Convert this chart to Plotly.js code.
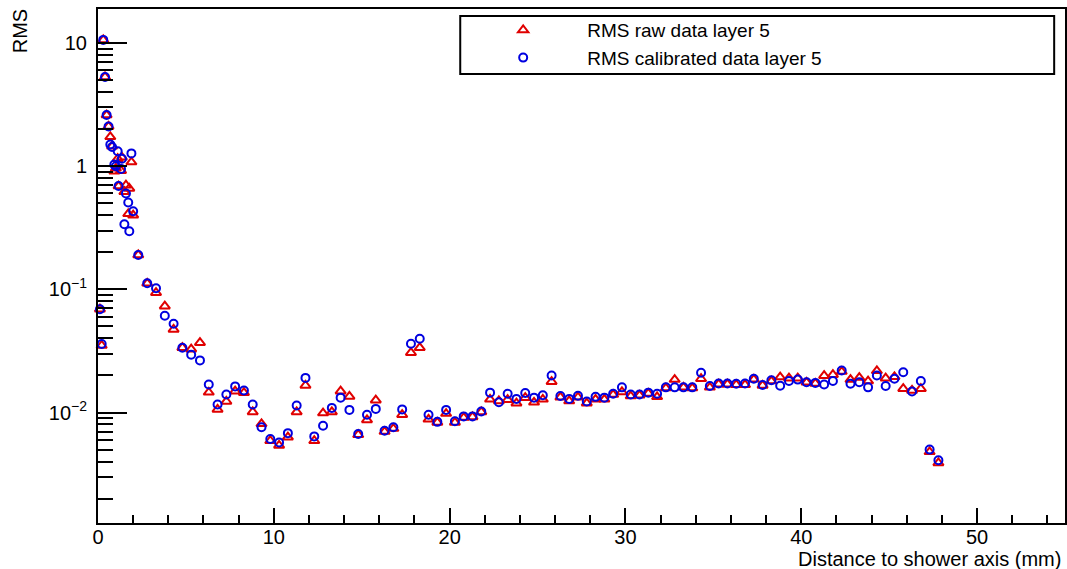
<!DOCTYPE html>
<html>
<head>
<meta charset="utf-8">
<script src="https://cdn.plot.ly/plotly-3.0.1.min.js"></script>
<style>
html,body{margin:0;padding:0;background:#fff;}
#chart{width:1067px;height:569px;}
</style>
</head>
<body>
<div id="chart"></div>
<script>
// Distance to shower axis (mm)
const distance = [
  0.11, 0.21, 0.30, 0.40, 0.49, 0.60, 0.70, 0.80, 0.93, 1.02, 1.12, 1.17, 1.31, 1.36, 1.50, 1.59, 1.72, 1.78, 1.90, 2.00, 2.29,
  2.8, 3.3, 3.8, 4.3, 4.8, 5.3, 5.8, 6.3, 6.8, 7.3, 7.8, 8.3, 8.8, 9.3, 9.8,
  10.3, 10.8, 11.3, 11.8, 12.3, 12.8, 13.3, 13.8, 14.3, 14.8, 15.3, 15.8, 16.3, 16.8, 17.3, 17.8, 18.3, 18.8, 19.3, 19.8,
  20.3, 20.8, 21.3, 21.8, 22.3, 22.8, 23.3, 23.8, 24.3, 24.8, 25.3, 25.8, 26.3, 26.8, 27.3, 27.8, 28.3, 28.8, 29.3, 29.8,
  30.3, 30.8, 31.3, 31.8, 32.3, 32.8, 33.3, 33.8, 34.3, 34.8, 35.3, 35.8, 36.3, 36.8, 37.3, 37.8, 38.3, 38.8, 39.3, 39.8,
  40.3, 40.8, 41.3, 41.8, 42.3, 42.8, 43.3, 43.8, 44.3, 44.8, 45.3, 45.8, 46.3, 46.8, 47.3, 47.8
];
// RMS raw data layer 5
const rmsRaw = [
  0.069, 0.035, 10.6, 5.3, 2.6, 2.1, 1.73, 1.45, 0.91, 0.96, 1.15, 0.69, 0.92, 1.18, 0.62, 0.70, 0.41, 0.66, 1.08, 0.40, 0.19,
  0.112, 0.094, 0.073, 0.0473, 0.0336, 0.0327, 0.0369, 0.0146, 0.0106, 0.0123, 0.0149, 0.0145, 0.0101, 0.0081, 0.0059,
  0.0054, 0.0063, 0.0101, 0.0166, 0.0059, 0.0099, 0.0101, 0.0149, 0.0135, 0.0066, 0.0087, 0.0126, 0.0070, 0.0074, 0.0096, 0.0306, 0.0336, 0.0088, 0.0083, 0.0098,
  0.0083, 0.0091, 0.0092, 0.0101, 0.0128, 0.0124, 0.0127, 0.0119, 0.0132, 0.0121, 0.0128, 0.0178, 0.0133, 0.0124, 0.0133, 0.0119, 0.0128, 0.0128, 0.0140, 0.0147,
  0.0136, 0.0138, 0.0143, 0.0134, 0.0158, 0.0185, 0.0160, 0.0158, 0.0188, 0.0160, 0.0170, 0.0170, 0.0168, 0.0168, 0.0186, 0.0166, 0.0180, 0.0194, 0.0190, 0.0190,
  0.0176, 0.0172, 0.0199, 0.0203, 0.0215, 0.0185, 0.0192, 0.0180, 0.0218, 0.0190, 0.0195, 0.0156, 0.0151, 0.0156, 0.0048, 0.0039
];
// RMS calibrated data layer 5
const rmsCalibrated = [
  0.069, 0.036, 10.6, 5.3, 2.6, 2.1, 1.50, 1.43, 1.03, 1.00, 1.32, 0.69, 0.95, 1.15, 0.338, 0.60, 0.507, 0.296, 1.27, 0.43, 0.19,
  0.112, 0.102, 0.061, 0.0526, 0.0336, 0.0295, 0.0265, 0.0169, 0.0116, 0.0140, 0.0163, 0.0151, 0.0116, 0.0076, 0.0061,
  0.0057, 0.0068, 0.0114, 0.0191, 0.0064, 0.0078, 0.0109, 0.0132, 0.0105, 0.0067, 0.0096, 0.0107, 0.0071, 0.0076, 0.0106, 0.0362, 0.0397, 0.0096, 0.0084, 0.0105,
  0.0085, 0.0093, 0.0093, 0.0102, 0.0145, 0.0121, 0.0142, 0.0129, 0.0144, 0.0132, 0.0138, 0.0200, 0.0136, 0.0129, 0.0137, 0.0123, 0.0134, 0.0132, 0.0142, 0.0160,
  0.0140, 0.0140, 0.0145, 0.0142, 0.0160, 0.0160, 0.0160, 0.0160, 0.0210, 0.0164, 0.0172, 0.0172, 0.0171, 0.0172, 0.0188, 0.0167, 0.0183, 0.0165, 0.0180, 0.0185,
  0.0176, 0.0174, 0.0169, 0.0180, 0.0219, 0.0171, 0.0176, 0.0160, 0.0200, 0.0164, 0.0188, 0.0212, 0.0148, 0.0180, 0.0050, 0.0041
];
const seriesNames = ['RMS raw data layer 5', 'RMS calibrated data layer 5'];
const yTickVals = [0.01, 0.1, 1, 10];
const yTickText = ['10<sup>\u22122</sup>', '10<sup>\u22121</sup>', '1', '10'];

const FONT = 'Liberation Sans, Arial, Helvetica, sans-serif';

const traces = [
  {
    x: distance, y: rmsRaw, type: 'scatter', mode: 'markers', name: seriesNames[0],
    marker: {symbol: 'triangle-up-open', size: 9, color: '#e00000', line: {width: 2, color: '#e00000'}},
    cliponaxis: false
  },
  {
    x: distance, y: rmsCalibrated, type: 'scatter', mode: 'markers', name: seriesNames[1],
    marker: {symbol: 'circle-open', size: 8, color: '#0000e0', line: {width: 2, color: '#0000e0'}},
    cliponaxis: false
  }
];

const layout = {
  width: 1067, height: 569,
  margin: {l: 98, r: 2, t: 9, b: 46},
  paper_bgcolor: '#fff', plot_bgcolor: '#fff',
  font: {family: FONT, size: 20, color: '#000'},
  showlegend: true,
  legend: {
    x: 0.3735, y: 0.996, xanchor: 'left', yanchor: 'top',
    bgcolor: 'rgba(0,0,0,0)', borderwidth: 0,
    font: {family: FONT, size: 19, color: '#000'},
    itemwidth: 118, traceorder: 'normal'
  },
  xaxis: {
    range: [0, 55], showgrid: false, zeroline: false,
    showline: true, linecolor: '#000', linewidth: 2, mirror: true,
    ticks: 'inside', ticklen: 15, tickwidth: 2, tickcolor: '#000',
    tickmode: 'linear', tick0: 0, dtick: 10,
    minor: {ticks: 'inside', ticklen: 8, tickwidth: 2, tickcolor: '#000', dtick: 2, tick0: 0, showgrid: false},
    tickfont: {family: FONT, size: 20},
    ticklabelstandoff: -5
  },
  yaxis: {
    type: 'log', range: [-2.897, 1.276], showgrid: false, zeroline: false,
    showline: true, linecolor: '#000', linewidth: 2, mirror: true,
    ticks: 'inside', ticklen: 29, tickwidth: 2, tickcolor: '#000',
    tickmode: 'array', tickvals: yTickVals, ticktext: yTickText,
    minor: {ticks: 'inside', ticklen: 15, tickwidth: 2, tickcolor: '#000', dtick: 'D1', showgrid: false},
    tickfont: {family: FONT, size: 20},
    ticklabelstandoff: 5
  },
  shapes: [
    {type: 'rect', xref: 'paper', yref: 'paper', x0: 0.3746, x1: 0.9888, y0: 0.8735, y1: 0.9864,
     line: {color: '#000', width: 2}, fillcolor: 'rgba(0,0,0,0)'}
  ],
  annotations: [
    {text: 'RMS', xref: 'paper', yref: 'paper', x: -0.0805, y: 0.957, xanchor: 'center', yanchor: 'middle',
     textangle: -90, showarrow: false, font: {family: FONT, size: 20, color: '#000'}},
    {text: 'Distance to shower axis (mm)', xref: 'paper', yref: 'paper', x: 0.998, y: -0.0707,
     xanchor: 'right', yanchor: 'middle', showarrow: false, font: {family: FONT, size: 20, color: '#000'}}
  ]
};

Plotly.newPlot('chart', traces, layout, {displayModeBar: false, staticPlot: true});
</script>
</body>
</html>
